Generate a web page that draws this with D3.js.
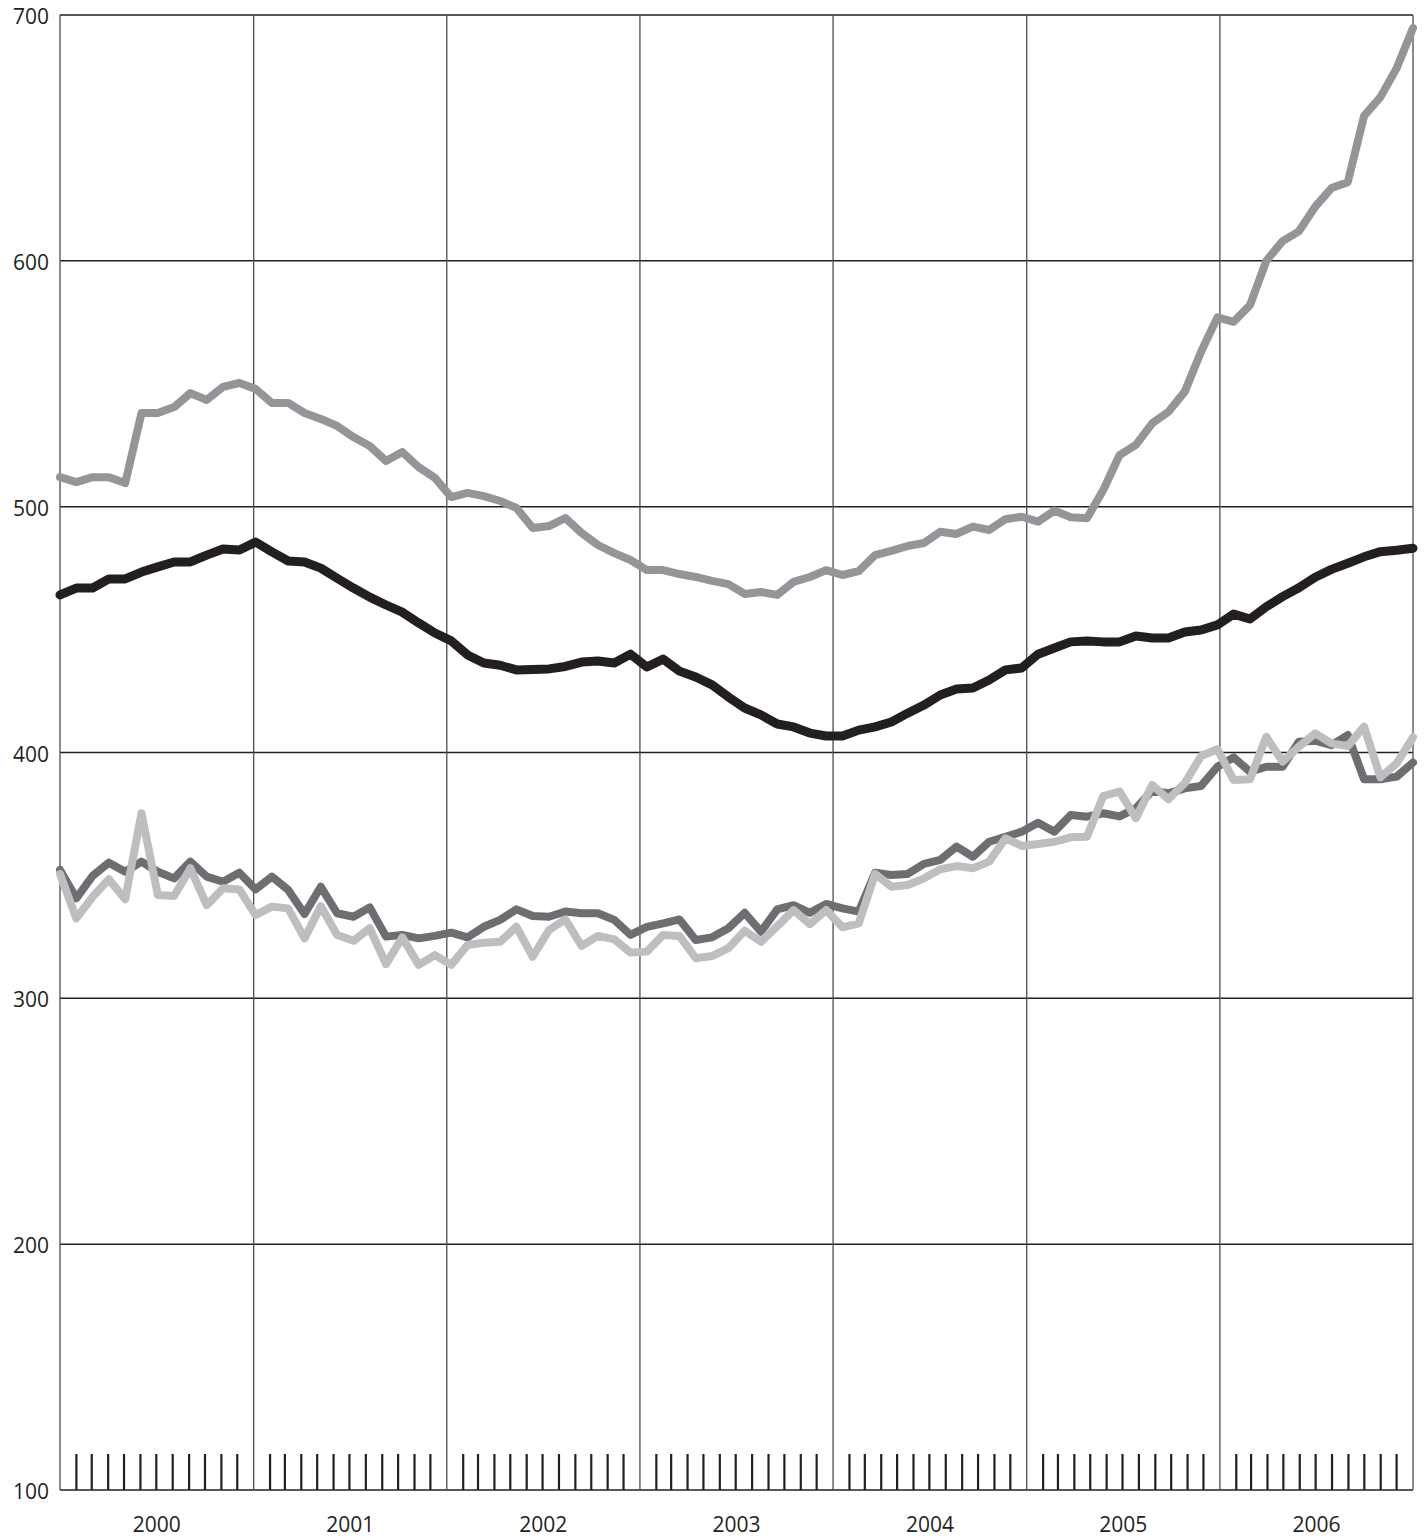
<!DOCTYPE html>
<html>
<head>
<meta charset="utf-8">
<script src="https://cdn.jsdelivr.net/npm/d3@7"></script>
<style>
  html, body { margin: 0; padding: 0; background: #fff; }
  svg { display: block; }
  text { font-family: "Open Sans", "DejaVu Sans", sans-serif; fill: #231f20; }
</style>
</head>
<body>
<svg id="chart" width="1424" height="1539"></svg>
<script>
// ---- Data (monthly, Jan 2000 – Dec 2006) ----
const years = ["2000", "2001", "2002", "2003", "2004", "2005", "2006"];
const yTicks = [100, 200, 300, 400, 500, 600, 700];

// medium grey, top series
const seriesA = [512, 510, 512, 512, 509.6, 538.1, 538.1, 540.5, 546.2, 543.4, 548.7, 550.3,
  547.9, 542.2, 542.2, 538.1, 535.7, 532.8, 528.3, 524.7, 518.6, 522.2, 516.1, 511.7,
  503.9, 505.6, 504.3, 502.3, 499.5, 491.3, 492.1, 495.4, 489.3, 484.4, 481.1, 478.3,
  474.2, 474.2, 472.6, 471.4, 469.8, 468.5, 464.5, 465.3, 464.1, 469.4, 471.4, 474.2,
  472.2, 473.8, 480.3, 482, 484, 485.2, 489.8, 488.9, 491.9, 490.5, 494.9, 495.9,
  493.9, 498.4, 495.7, 495.3, 506.8, 521, 525.1, 533.9, 538.6, 546.8, 563, 577,
  575.2, 582, 600, 608, 612, 622, 629.6, 632, 659, 666.6, 678.4, 694.7];

// black series
const seriesB = [464.1, 466.9, 466.9, 470.6, 470.6, 473.4, 475.5, 477.5, 477.5, 480.3, 482.8, 482.4,
  485.6, 481.6, 477.9, 477.5, 475, 470.9, 466.9, 463.2, 460, 457.1, 452.7, 448.6,
  445.4, 439.7, 436.4, 435.5, 433.6, 433.8, 434, 435, 436.8, 437.2, 436.4, 440,
  434.8, 438, 433.1, 430.7, 427.5, 422.6, 418.1, 415.3, 411.6, 410.4, 407.9, 406.7,
  406.7, 409.1, 410.4, 412.4, 416, 419.3, 423.4, 425.8, 426.2, 429.5, 433.6, 434.4,
  440, 442.5, 445, 445.4, 445, 445, 447.4, 446.6, 446.6, 449, 449.8, 451.9,
  456.3, 454.3, 459.3, 463.4, 467, 471.3, 474.5, 477, 479.6, 481.7, 482.3, 483.1];

// dark grey series
const seriesC = [352.2, 340.7, 349.8, 355.2, 351.5, 355.6, 351.5, 348.8, 355.6, 349.5, 347.4, 351.1,
  344.3, 349.5, 344.1, 334.3, 345.4, 334.6, 333.2, 337, 325.1, 325.8, 324.4, 325.4,
  326.7, 324.8, 329.1, 331.9, 336.2, 333.5, 333.2, 335.3, 334.6, 334.6, 331.9, 325.8,
  329.1, 330.5, 332.1, 323.7, 324.8, 328.5, 334.8, 327.1, 336.2, 337.9, 334.8, 338.4,
  336.6, 335.3, 351.1, 350.2, 350.6, 354.7, 356.3, 361.7, 357.6, 363.7, 365.7, 367.8,
  371.4, 367.8, 374.6, 373.9, 375.3, 374, 377.3, 384.4, 383.4, 385.4, 386.4, 394.2,
  398, 392.2, 394.2, 394.2, 404.4, 404.8, 403, 407.1, 389.1, 389.1, 390.2, 395.9];

// light grey series
const seriesD = [350.6, 332.5, 341.3, 348.4, 340.3, 375.3, 342, 341.6, 352.9, 337.9, 344.8, 344.3,
  333.9, 337.3, 336.6, 324.4, 337.5, 325.8, 323.4, 328.5, 313.9, 324.8, 313.6, 317.6,
  313.6, 321.7, 322.6, 323, 329.1, 316.9, 327.8, 332.1, 321.3, 325.4, 324, 318.6,
  319, 325.8, 325.4, 316.3, 317.2, 320.4, 327.5, 323, 329.4, 335.9, 330.2, 335.9,
  328.9, 330.5, 350.6, 345.4, 346.1, 348.8, 352.5, 353.8, 352.9, 355.6, 365.1, 362,
  362.8, 363.7, 365.5, 365.7, 382.3, 384.1, 373.3, 386.8, 381, 387.5, 398.6, 401.3,
  388.8, 389.1, 406.4, 396.3, 402.4, 407.8, 403.7, 402.6, 410.5, 389.9, 395.6, 406.2];

// ---- Layout ----
const L = 60, R = 1413, T = 15, B = 1490;
const svg = d3.select("#chart");

const x = d3.scalePoint().domain(d3.range(seriesA.length)).range([L, R]);
const xt = d3.scaleTime().domain([new Date(2000, 0, 1), new Date(2007, 0, 1)]).range([L, R]);
const y = d3.scaleLinear().domain([100, 700]).range([B, T]);

// horizontal gridlines
svg.append("g").selectAll("line").data(yTicks).join("line")
  .attr("x1", L).attr("x2", R)
  .attr("y1", d => y(d)).attr("y2", d => y(d))
  .attr("stroke", "#231f20").attr("stroke-width", 1.5);

// vertical year lines (including frame)
const yearDates = d3.range(0, years.length + 1).map(i => new Date(2000 + i, 0, 1));
svg.append("g").selectAll("line").data(yearDates).join("line")
  .attr("x1", d => xt(d)).attr("x2", d => xt(d))
  .attr("y1", T).attr("y2", B)
  .attr("stroke", "#4d4d4f").attr("stroke-width", 1.3);

// month ticks at bottom
const monthTicks = xt.ticks(d3.timeMonth.every(1)).filter(d => d.getMonth() !== 0);
svg.append("g").selectAll("line").data(monthTicks).join("line")
  .attr("x1", d => xt(d)).attr("x2", d => xt(d))
  .attr("y1", B - 36).attr("y2", B)
  .attr("stroke", "#231f20").attr("stroke-width", 2.2);

// y labels
svg.append("g").selectAll("text").data(yTicks).join("text")
  .attr("x", 49).attr("y", d => y(d) + 9)
  .attr("text-anchor", "end")
  .attr("font-size", 21)
  .text(d => d);

// year labels
svg.append("g").selectAll("text").data(years).join("text")
  .attr("x", (d, i) => (xt(new Date(+d, 0, 1)) + xt(new Date(+d + 1, 0, 1))) / 2)
  .attr("y", 1532)
  .attr("text-anchor", "middle")
  .attr("font-size", 21)
  .text(d => d);

// lines
const line = d3.line().x((d, i) => x(i)).y(d => y(d));
const series = [
  { data: seriesA, color: "#939598", w: 8 },
  { data: seriesB, color: "#231f20", w: 9 },
  { data: seriesC, color: "#6d6e71", w: 8 },
  { data: seriesD, color: "#bcbec0", w: 8 }
];
svg.append("g").selectAll("path").data(series).join("path")
  .attr("d", s => line(s.data))
  .attr("fill", "none")
  .attr("stroke", s => s.color)
  .attr("stroke-width", s => s.w)
  .attr("stroke-linejoin", "round")
  .attr("stroke-linecap", "round");
</script>
</body>
</html>
